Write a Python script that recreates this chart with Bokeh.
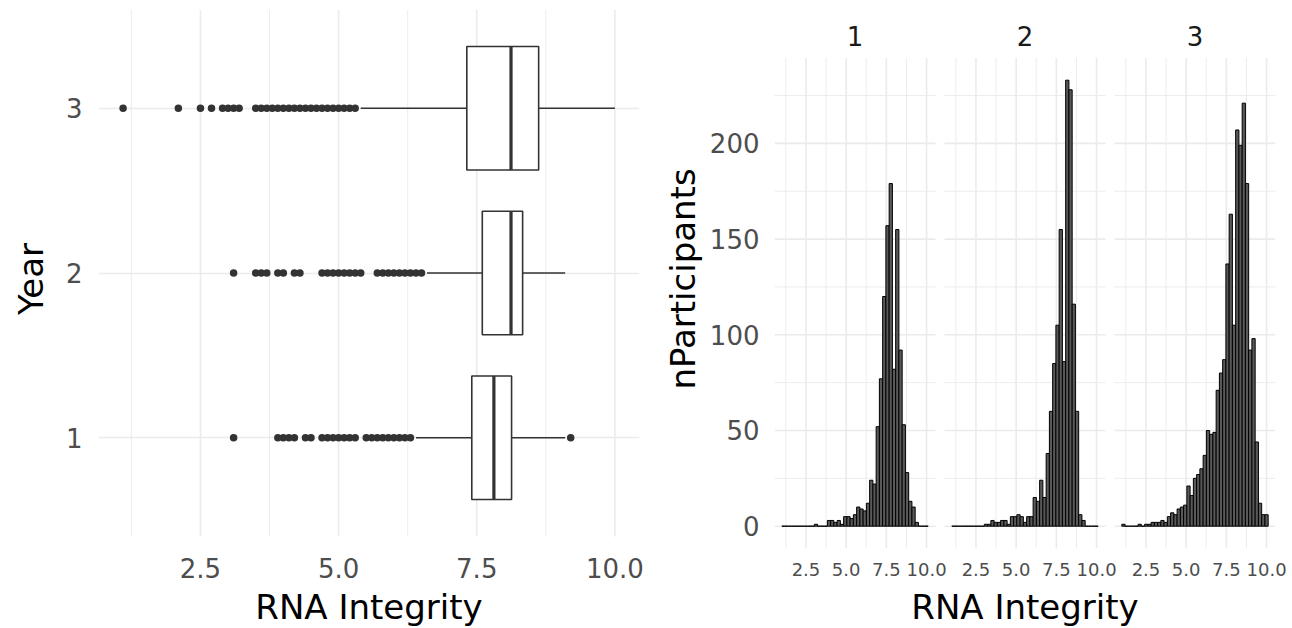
import numpy as np
from bokeh.plotting import figure
from bokeh.layouts import row
from bokeh.models import FixedTicker, Range1d, PrintfTickFormatter, CustomJSTickFormatter
from bokeh.core.properties import value
from bokeh.embed import file_html
from bokeh.resources import INLINE

# ---------------- data ----------------
years = [1, 2, 3]
box_q1 = [7.41, 7.60, 7.32]
box_median = [7.81, 8.12, 8.12]
box_q3 = [8.13, 8.33, 8.62]
whisker_lo = [6.4, 6.6, 5.4]
whisker_hi = [9.1, 9.1, 10.0]

outliers_year1 = [3.1, 3.9, 4.0, 4.1, 4.2, 4.4, 4.5, 4.7, 4.8, 4.9, 5.0, 5.1, 5.2, 5.3,
                  5.5, 5.6, 5.7, 5.8, 5.9, 6.0, 6.1, 6.2, 6.3, 9.2]
outliers_year2 = [3.1, 3.5, 3.6, 3.7, 3.9, 4.0, 4.2, 4.3, 4.7, 4.8, 4.9, 5.0, 5.1, 5.2,
                  5.3, 5.4, 5.7, 5.8, 5.9, 6.0, 6.1, 6.2, 6.3, 6.4, 6.5]
outliers_year3 = [1.1, 2.1, 2.5, 2.7, 2.9, 3.0, 3.1, 3.2, 3.5, 3.6, 3.7, 3.8, 3.9, 4.0,
                  4.1, 4.2, 4.3, 4.4, 4.5, 4.6, 4.7, 4.8, 4.9, 5.0, 5.1, 5.2, 5.3]

# histogram: 45 bins centred from 1.1 to 10.0 (same bins in every facet)
hist_first_center = 1.1
hist_last_center = 10.0
facet_labels = ["1", "2", "3"]
hist_counts_year1 = [0, 0, 0, 0, 0, 0, 0, 0, 0, 0,
                     1, 0, 0, 0, 3, 3, 2, 3, 1, 5,
                     5, 4, 6, 10, 9, 8, 12, 24, 22, 52,
                     77, 120, 157, 179, 82, 155, 92, 53, 28, 13,
                     10, 2, 0, 0, 0]
hist_counts_year2 = [0, 0, 0, 0, 0, 0, 0, 0, 0, 0,
                     1, 1, 3, 2, 2, 3, 3, 1, 5, 5,
                     6, 5, 2, 5, 5, 15, 13, 24, 15, 38,
                     60, 85, 105, 155, 86, 233, 228, 116, 60, 6,
                     3, 0, 0, 0, 0]
hist_counts_year3 = [1, 0, 0, 0, 0, 1, 0, 1, 1, 2,
                     2, 2, 3, 2, 5, 7, 6, 9, 10, 11,
                     21, 16, 25, 27, 30, 37, 50, 48, 49, 71,
                     80, 87, 137, 163, 105, 207, 199, 221, 179, 92,
                     98, 44, 12, 6, 6]

x_ticks = [2.5, 5.0, 7.5, 10.0]
x_minor = [1.25, 3.75, 6.25, 8.75]
count_ticks = [0, 50, 100, 150, 200]
count_minor = [25, 75, 125, 175, 225]

# ---------------- style ----------------
FONT = "DejaVu Sans"
GRID = "#EBEBEB"
TICK_COL = "#4D4D4D"
TITLE_COL = "#000000"
LINE_COL = "#333333"
MAJOR_W = 1.6
MINOR_W = 0.9
TICK_FS = "26px"
TITLE_FS = "34px"

FRAME_H = 539
TOP = 9
BOTTOM = 80


def base_style(p):
    p.outline_line_color = None
    p.background_fill_color = "white"
    p.border_fill_color = "white"
    for ax in p.axis:
        ax.axis_line_color = None
        ax.major_tick_line_color = None
        ax.minor_tick_line_color = None
        ax.major_label_text_font = FONT
        ax.major_label_text_color = TICK_COL
        ax.axis_label_text_font = FONT
        ax.axis_label_text_font_style = "normal"
        ax.axis_label_text_color = TITLE_COL


# ---------------- left: boxplot ----------------
all_out = outliers_year1 + outliers_year2 + outliers_year3
xmin = min(min(all_out), min(whisker_lo))
xmax = max(max(all_out), max(whisker_hi))
xpad = (xmax - xmin) * 0.05
ylo, yhi = 0.4, 3.6
panel_h_left = 527
ppy_left = panel_h_left / (yhi - ylo)
ylo_frame = ylo - (FRAME_H - panel_h_left) / ppy_left

pb = figure(frame_width=541, frame_height=FRAME_H,
            min_border_left=98, min_border_right=16, min_border_top=TOP, min_border_bottom=BOTTOM,
            x_range=Range1d(xmin - xpad, xmax + xpad), y_range=Range1d(ylo_frame, yhi),
            output_backend="svg", toolbar_location=None)
pb.xaxis.ticker = FixedTicker(ticks=x_ticks, minor_ticks=[])
pb.yaxis.ticker = FixedTicker(ticks=years, minor_ticks=[])
pb.xaxis.formatter = PrintfTickFormatter(format="%.1f")
pb.xaxis.axis_label = "RNA Integrity"
pb.yaxis.axis_label = "Year"
base_style(pb)
pb.xgrid.visible = False
pb.ygrid.grid_line_color = GRID
pb.ygrid.grid_line_width = MAJOR_W
pb.axis.major_label_text_font_size = TICK_FS
pb.axis.axis_label_text_font_size = TITLE_FS
pb.xaxis.major_label_standoff = 3
pb.xaxis.axis_label_standoff = 6
pb.yaxis.major_label_standoff = 10
pb.yaxis.axis_label_standoff = 12

# manual vertical grid (stops at the panel bottom)
pb.segment(x0=x_minor, x1=x_minor, y0=ylo, y1=yhi, line_color=GRID, line_width=MINOR_W)
pb.segment(x0=x_ticks, x1=x_ticks, y0=ylo, y1=yhi, line_color=GRID, line_width=MAJOR_W)

half = 0.375
pb.segment(x0=whisker_lo, x1=box_q1, y0=years, y1=years, line_color=LINE_COL, line_width=1.6)
pb.segment(x0=box_q3, x1=whisker_hi, y0=years, y1=years, line_color=LINE_COL, line_width=1.6)
pb.quad(left=box_q1, right=box_q3,
        bottom=[y - half for y in years], top=[y + half for y in years],
        fill_color="white", line_color=LINE_COL, line_width=1.6)
pb.segment(x0=box_median, x1=box_median,
           y0=[y - half for y in years], y1=[y + half for y in years],
           line_color=LINE_COL, line_width=3.2)
for yr, outs in zip(years, [outliers_year1, outliers_year2, outliers_year3]):
    pb.scatter(x=outs, y=[yr] * len(outs), size=7.5, fill_color=LINE_COL, line_color=None)

# ---------------- right: faceted histograms in one frame ----------------
n_bins = len(hist_counts_year1)
bw = (hist_last_center - hist_first_center) / (n_bins - 1)
edges = [hist_first_center - bw / 2 + bw * i for i in range(n_bins + 1)]
hx_lo, hx_hi = edges[0], edges[-1]
hpad = (hx_hi - hx_lo) * 0.05
pan_lo, pan_hi = hx_lo - hpad, hx_hi + hpad
R = pan_hi - pan_lo
PANEL_W = 161
GAP_W = 9
ppx = PANEL_W / R
S = R + GAP_W / ppx                      # data offset between facets
frame_w_right = 3 * PANEL_W + 2 * GAP_W

cmax = max(hist_counts_year1 + hist_counts_year2 + hist_counts_year3)
cpad = cmax * 0.05
c_lo, c_hi = -cpad, cmax + cpad
panel_h_right = 490.6
ppy_right = panel_h_right / (c_hi - c_lo)
c_top_frame = c_hi + (FRAME_H - panel_h_right) / ppy_right

ph = figure(frame_width=frame_w_right, frame_height=FRAME_H,
            min_border_left=119, min_border_right=1292 - 655 - 119 - frame_w_right,
            min_border_top=TOP, min_border_bottom=BOTTOM,
            x_range=Range1d(pan_lo, pan_lo + 3 * R + 2 * (S - R)),
            y_range=Range1d(c_lo, c_top_frame),
            output_backend="svg", toolbar_location=None)
base_style(ph)
ph.xgrid.visible = False
ph.ygrid.visible = False
ph.xaxis.ticker = FixedTicker(ticks=[t + i * S for i in range(3) for t in x_ticks], minor_ticks=[])
ph.xaxis.formatter = CustomJSTickFormatter(args=dict(lo=pan_lo, S=S), code="""
    const i = Math.floor((tick - lo) / S);
    return (tick - i * S).toFixed(1);
""")
ph.yaxis.ticker = FixedTicker(ticks=count_ticks, minor_ticks=[])
ph.xaxis.axis_label = "RNA Integrity"
ph.yaxis.axis_label = "nParticipants"
ph.xaxis.major_label_text_font_size = "18px"
ph.xaxis.axis_label_text_font_size = TITLE_FS
ph.xaxis.major_label_standoff = 8
ph.xaxis.axis_label_standoff = 8
ph.yaxis.major_label_text_font_size = TICK_FS
ph.yaxis.axis_label_text_font_size = TITLE_FS
ph.yaxis.major_label_standoff = 9
ph.yaxis.axis_label_standoff = 4

for i, (lab, counts) in enumerate(zip(facet_labels,
                                      [hist_counts_year1, hist_counts_year2, hist_counts_year3])):
    off = i * S
    x0, x1 = pan_lo + off, pan_hi + off
    # grid
    ph.segment(x0=x0, x1=x1, y0=count_minor, y1=count_minor, line_color=GRID, line_width=MINOR_W)
    ph.segment(x0=[m + off for m in x_minor], x1=[m + off for m in x_minor],
               y0=c_lo, y1=c_hi, line_color=GRID, line_width=MINOR_W)
    ph.segment(x0=x0, x1=x1, y0=count_ticks, y1=count_ticks, line_color=GRID, line_width=MAJOR_W)
    ph.segment(x0=[t + off for t in x_ticks], x1=[t + off for t in x_ticks],
               y0=c_lo, y1=c_hi, line_color=GRID, line_width=MAJOR_W)
    # bars
    ph.quad(left=[e + off for e in edges[:-1]], right=[e + off for e in edges[1:]],
            bottom=0, top=counts, fill_color="#595959", line_color="black", line_width=1)
    # strip label
    ph.text(x=[(x0 + x1) / 2], y=[c_top_frame - 26 / ppy_right], text=[lab],
            text_font=value(FONT), text_font_size="26px", text_align="center",
            text_baseline="middle", text_color="#1A1A1A")

layout = row([pb, ph], spacing=0)
open("out.html", "w").write(file_html(layout, INLINE))
